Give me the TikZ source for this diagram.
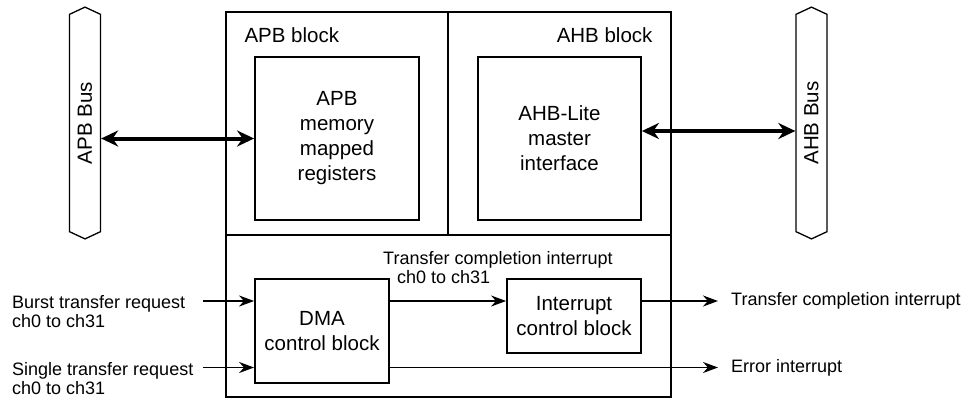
\documentclass[tikz,border=0pt]{standalone}
\usepackage{fontspec}
\setmainfont{Liberation Sans}
\usetikzlibrary{arrows.meta,shapes.symbols}

\begin{document}
\begin{tikzpicture}
	[x=1pt,y=-1pt,
	every node/.style={font=\fontsize{20.5}{25}\selectfont},
	frame/.style={draw,line width=2pt,inner sep=0pt},
	block/.style={draw,line width=1.8pt,align=center,inner sep=0pt},
	bus/.style={draw,line width=1.3pt,shape=signal,signal to=north and south,
		signal pointer angle=130,minimum width=31pt,minimum height=224pt,inner sep=0pt},
	lbl/.style={align=left,inner sep=0pt,font=\fontsize{18}{19}\selectfont},
	sig/.style={line width=1.8pt,-{Stealth[length=15pt,width=11pt]}},
	dbl/.style={line width=4pt,{Stealth[length=17pt,width=16pt]}-{Stealth[length=17pt,width=16pt]}}]
	\useasboundingbox (0,0) rectangle (966,400);
	\node[frame,minimum width=222pt,minimum height=223pt] (apbblk) at (337,123.5) {};
	\node[frame,minimum width=223pt,minimum height=223pt] (ahbblk) at (559.5,123.5) {};
	\node[frame,minimum width=445pt,minimum height=162pt] (ctlblk) at (448.5,316) {};
	\node[anchor=west] (apbtitle) at (241,35) {APB block};
	\node[anchor=east] (ahbtitle) at (656,35) {AHB block};
	\node[block,minimum width=164pt,minimum height=163pt] (apbreg) at (337,138.5) {APB\\memory\\mapped\\registers};
	\node[block,minimum width=163pt,minimum height=163pt] (ahbif) at (559.5,138.5) {AHB-Lite\\master\\interface};
	\node[block,minimum width=134pt,minimum height=104pt] (dma) at (322,331) {DMA\\control block};
	\node[block,minimum width=134pt,minimum height=74pt] (intc) at (574,316) {Interrupt\\control block};
	\node[bus] (apbbus) at (85,123) {\rotatebox{90}{APB Bus}};
	\node[bus] (ahbbus) at (811.5,123) {\rotatebox{90}{AHB Bus}};
	\node[lbl,anchor=west] (burst) at (12,311.5) {Burst transfer request\\ch0 to ch31};
	\node[lbl,anchor=west] (single) at (12,379) {Single transfer request\\ch0 to ch31};
	\node[lbl,anchor=west] (tcirq) at (383,267.5) {Transfer completion interrupt\\\hspace*{14pt}ch0 to ch31};
	\node[lbl,anchor=west] (tcout) at (731,301) {Transfer completion interrupt};
	\node[lbl,anchor=west] (errout) at (731,367.5) {Error interrupt};
	\coordinate (burstin) at (203,301);
	\coordinate (singlein) at (203,367.5);
	\coordinate (ahbport) at ([yshift=7.5pt]ahbif.east);
	\draw[dbl] (apbbus.east |- apbreg) -- (apbreg.west);
	\draw[dbl] (ahbport) -- (ahbbus.west |- ahbport);
	\draw[sig] (burstin) -- (dma.west |- burstin);
	\draw[sig] (singlein) -- (dma.west |- singlein);
	\draw[sig] (dma.east |- burstin) -- (intc.west |- burstin);
	\draw[sig] (intc.east |- burstin) -- ([xshift=-13pt]tcout.west);
	\draw[sig] (dma.east |- singlein) -- ([xshift=-13pt]errout.west);
\end{tikzpicture}
\end{document}
